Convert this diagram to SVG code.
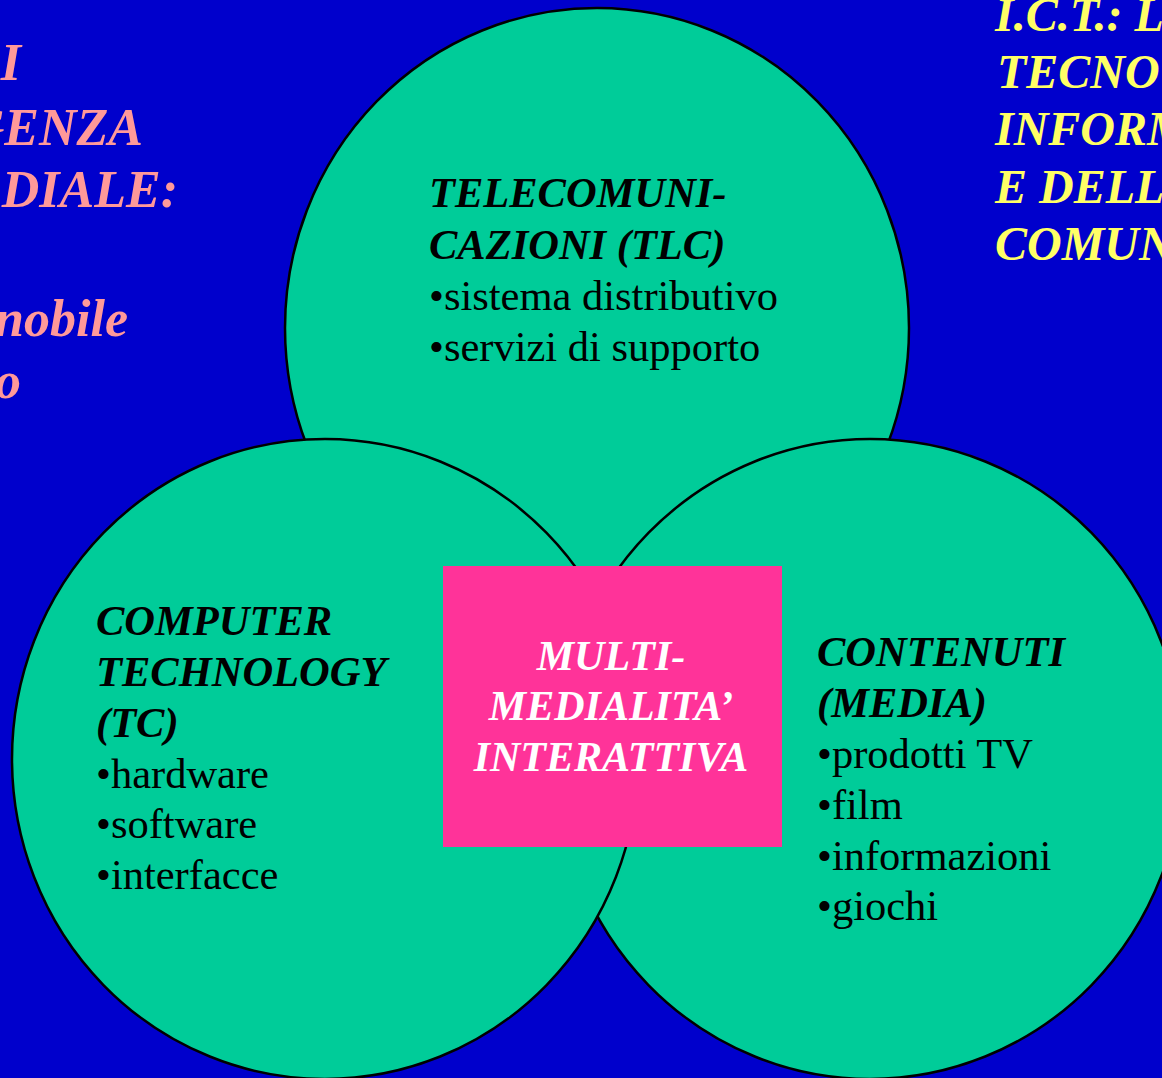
<svg xmlns="http://www.w3.org/2000/svg" width="1162" height="1078" viewBox="0 0 1162 1078">
<style>
.circ{fill:#00CC99;stroke:#000;stroke-width:2.5}
.t{font-family:"Liberation Serif","Times New Roman",serif;font-size:42.5px;fill:#000}
.h{font-weight:bold;font-style:italic}
.c{font-family:"Liberation Serif","Times New Roman",serif;font-size:42px;font-weight:bold;font-style:italic;fill:#fff;text-anchor:middle}
.s{font-family:"Liberation Serif","Times New Roman",serif;font-size:52px;font-weight:bold;font-style:italic;fill:#FF9999;text-anchor:end}
.y{font-family:"Liberation Serif","Times New Roman",serif;font-size:48px;font-weight:bold;font-style:italic;fill:#FFFF66}
</style>
<rect x="0" y="0" width="1162" height="1078" fill="#0000CC"/>
<g id="left-title">
<text class="s" x="21" y="80">I</text>
<text class="s" x="143" y="145">GENZA</text>
<text class="s" x="178" y="207">DIALE:</text>
<text class="s" x="128" y="336">nobile</text>
<text class="s" x="21" y="398">o</text>
</g>
<g id="right-title">
<text class="y" x="995" y="31">I.C.T.: L</text>
<text class="y" x="997" y="88">TECNO</text>
<text class="y" x="995" y="145">INFORM</text>
<text class="y" x="995" y="203">E DELL</text>
<text class="y" x="995" y="260">COMUN</text>
</g>
<g id="connectors"></g>
<g id="node-tlc">
<ellipse class="circ" cx="597" cy="328" rx="312" ry="320"/>
<text class="t h" x="429" y="207">TELECOMUNI-</text>
<text class="t h" x="429" y="259">CAZIONI (TLC)</text>
<text class="t" x="429" y="310">•sistema distributivo</text>
<text class="t" x="429" y="361">•servizi di supporto</text>
</g>
<g id="node-media">
<ellipse class="circ" cx="870" cy="759" rx="313" ry="320"/>
<text class="t h" x="817" y="666">CONTENUTI</text>
<text class="t h" x="817" y="717">(MEDIA)</text>
<text class="t" x="817" y="768">•prodotti TV</text>
<text class="t" x="817" y="819">•film</text>
<text class="t" x="817" y="870">•informazioni</text>
<text class="t" x="817" y="920">•giochi</text>
</g>
<g id="node-tc">
<ellipse class="circ" cx="325" cy="759" rx="313" ry="320"/>
<text class="t h" x="96" y="635">COMPUTER</text>
<text class="t h" x="96" y="686">TECHNOLOGY</text>
<text class="t h" x="96" y="737">(TC)</text>
<text class="t" x="96" y="788">•hardware</text>
<text class="t" x="96" y="838">•software</text>
<text class="t" x="96" y="889">•interfacce</text>
</g>
<g id="node-multimedia">
<rect x="443" y="566" width="339" height="281" fill="#FF3399"/>
<text class="c" x="611" y="670">MULTI-</text>
<text class="c" x="611" y="720">MEDIALITA’</text>
<text class="c" x="611" y="771">INTERATTIVA</text>
</g>
</svg>
